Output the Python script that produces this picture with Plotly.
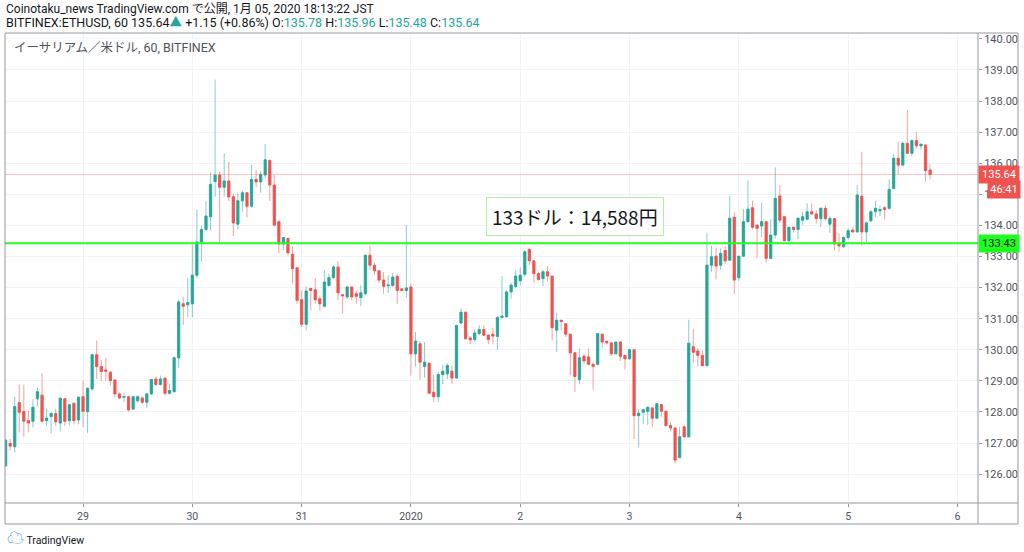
import pandas as pd
import plotly.graph_objects as go

# ETH/USD 1h ローソク足 (BITFINEX)
start_time = "2019-12-28 07:00"

opens = [126.27, 126.99, 126.88, 128.30, 128.01, 127.72, 127.70, 128.42, 128.54, 127.72,
         127.85, 127.95, 127.64, 128.42, 127.72, 128.28, 127.74, 128.49, 128.01, 128.74,
         129.84, 129.46, 129.35, 129.28, 129.03, 128.58, 128.47, 128.49, 128.09, 128.36,
         128.45, 128.31, 128.58, 129.06, 128.88, 129.09, 128.60, 128.65, 129.74, 131.48,
         131.45, 131.48, 132.40, 133.47, 133.87, 134.28, 135.41, 135.62, 135.23, 135.43,
         134.92, 134.04, 134.79, 135.05, 134.62, 135.48, 135.40, 135.62, 136.09, 135.30,
         134.12, 133.40, 133.58, 133.07, 132.64, 131.61, 130.82, 131.97, 131.93, 131.64,
         131.40, 132.07, 132.32, 132.66, 131.77, 131.70, 132.02, 131.80, 131.68, 131.80,
         133.04, 132.72, 132.54, 132.24, 132.06, 132.07, 132.36, 131.96, 131.91, 132.02,
         129.87, 130.19, 129.46, 129.57, 128.63, 128.49, 129.20, 129.22, 129.31, 129.09,
         130.86, 131.21, 130.38, 130.33, 130.52, 130.65, 130.47, 130.50, 130.43, 131.04,
         131.06, 131.86, 132.03, 132.22, 132.43, 133.23, 132.86, 132.45, 132.29, 132.51,
         132.37, 130.63, 130.95, 130.84, 130.50, 129.90, 129.04, 129.79, 129.77, 129.53,
         129.53, 130.50, 130.27, 130.22, 129.87, 130.25, 129.82, 129.71, 130.00, 127.88,
         127.99, 128.02, 128.13, 127.80, 128.24, 128.02, 127.56, 127.48, 126.53, 127.52,
         127.20, 130.10, 129.96, 129.82, 129.49, 132.72, 133.01, 132.72, 133.19, 132.88,
         134.26, 132.32, 133.01, 134.12, 134.57, 134.01, 133.98, 134.12, 132.94, 133.69,
         134.95, 134.28, 133.51, 133.94, 133.87, 134.17, 134.20, 134.44, 134.37, 134.22,
         134.55, 134.04, 134.22, 133.42, 133.31, 133.61, 133.85, 133.79, 134.94, 133.79,
         134.15, 134.44, 134.47, 134.57, 134.55, 135.19, 136.16, 135.94, 136.64, 136.32,
         136.73, 136.56, 136.59, 135.78]

highs = [127.13, 127.13, 128.49, 128.88, 128.88, 128.04, 128.42, 128.79, 129.25, 128.10,
         127.99, 128.10, 128.47, 128.45, 128.27, 128.30, 128.50, 129.01, 128.79, 129.87,
         130.30, 129.67, 129.74, 129.31, 129.03, 128.63, 128.58, 128.52, 128.52, 128.52,
         128.49, 128.60, 129.06, 129.14, 129.17, 129.09, 128.90, 129.78, 131.61, 131.70,
         132.30, 133.37, 134.51, 134.00, 134.79, 135.70, 138.69, 135.73, 136.32, 136.05,
         135.03, 135.05, 135.12, 135.08, 135.95, 135.78, 135.73, 136.62, 136.13, 135.62,
         134.17, 133.63, 133.61, 133.33, 132.64, 131.91, 132.04, 132.00, 132.30, 131.75,
         132.56, 132.45, 132.72, 132.86, 131.78, 132.04, 132.04, 131.89, 132.07, 133.07,
         133.36, 132.80, 132.56, 132.50, 132.40, 132.47, 132.45, 131.96, 134.01, 132.13,
         130.57, 130.28, 130.25, 129.57, 129.20, 129.28, 129.52, 129.57, 129.49, 130.81,
         131.32, 131.21, 130.43, 130.65, 130.79, 130.79, 130.50, 130.71, 131.08, 132.37,
         131.92, 132.15, 132.58, 132.65, 133.21, 133.26, 132.86, 132.51, 132.56, 132.69,
         132.37, 131.19, 130.95, 130.86, 130.52, 129.93, 130.04, 129.87, 130.04, 129.60,
         130.52, 130.52, 130.30, 130.25, 130.25, 130.28, 129.82, 130.04, 130.00, 128.10,
         128.10, 128.17, 128.15, 128.28, 128.26, 128.05, 127.66, 127.52, 127.52, 127.59,
         130.97, 130.68, 130.04, 129.98, 133.77, 133.34, 133.29, 133.26, 133.34, 134.95,
         134.41, 133.01, 134.52, 135.44, 134.80, 134.01, 134.73, 134.12, 134.20, 135.87,
         135.30, 134.30, 133.96, 133.96, 134.26, 134.44, 134.71, 134.71, 134.49, 134.58,
         134.65, 134.30, 134.22, 133.74, 133.65, 133.90, 133.95, 135.30, 136.37, 134.12,
         134.49, 134.79, 134.65, 134.62, 135.48, 136.30, 136.70, 136.70, 137.72, 136.77,
         137.00, 136.64, 136.59, 135.96]

lows = [126.23, 126.75, 126.70, 127.34, 127.20, 127.34, 127.50, 128.17, 127.66, 127.56,
        127.31, 127.56, 127.37, 127.56, 127.56, 127.60, 127.60, 127.50, 127.31, 128.68,
        129.06, 128.99, 129.01, 128.85, 128.47, 128.42, 128.31, 128.02, 128.06, 128.30,
        128.25, 128.12, 128.55, 128.85, 128.85, 128.52, 128.55, 128.63, 129.42, 130.80,
        131.05, 131.05, 132.30, 132.83, 133.83, 133.83, 134.92, 133.44, 134.92, 134.79,
        133.66, 133.87, 134.44, 134.26, 134.58, 135.23, 135.05, 135.52, 134.79, 133.98,
        133.10, 133.20, 133.04, 132.13, 131.48, 130.73, 130.62, 131.27, 131.48, 131.27,
        131.37, 132.02, 132.29, 131.59, 131.18, 131.64, 131.59, 131.48, 131.40, 131.78,
        132.56, 132.40, 132.15, 131.80, 131.83, 132.02, 131.48, 131.89, 131.68, 129.17,
        129.46, 129.03, 129.10, 128.58, 128.31, 128.31, 128.90, 129.06, 128.90, 129.06,
        130.83, 130.35, 130.19, 130.25, 130.47, 130.43, 130.18, 130.18, 130.00, 131.00,
        131.04, 131.65, 132.00, 132.08, 132.35, 132.72, 132.15, 132.22, 132.05, 132.19,
        130.30, 129.92, 130.63, 130.41, 129.18, 128.64, 128.89, 129.53, 129.50, 128.71,
        129.50, 130.07, 130.18, 129.79, 129.85, 129.64, 129.36, 129.68, 127.13, 126.86,
        127.61, 127.59, 127.52, 127.77, 127.85, 127.53, 127.37, 126.34, 126.51, 127.18,
        127.18, 129.57, 129.46, 129.46, 129.46, 132.51, 132.26, 132.58, 132.76, 132.86,
        131.79, 132.22, 132.99, 134.09, 133.87, 132.94, 133.62, 132.80, 132.91, 133.58,
        134.09, 133.48, 133.48, 133.77, 133.55, 134.02, 134.19, 134.33, 134.06, 133.95,
        134.15, 133.76, 133.20, 133.15, 133.29, 133.55, 133.76, 133.76, 133.36, 133.47,
        134.12, 134.26, 134.30, 134.19, 134.51, 135.16, 135.65, 135.91, 136.30, 136.23,
        136.48, 136.43, 135.41, 135.48]

closes = [127.09, 126.90, 128.17, 127.99, 127.70, 127.64, 128.15, 128.65, 127.70, 127.80,
          127.95, 127.68, 128.44, 127.70, 128.23, 127.72, 128.47, 128.02, 128.76, 129.84,
          129.46, 129.30, 129.31, 129.01, 128.58, 128.45, 128.49, 128.06, 128.49, 128.49,
          128.31, 128.58, 129.04, 128.88, 129.06, 128.60, 128.69, 129.74, 131.54, 131.40,
          131.52, 132.40, 133.47, 133.87, 134.30, 135.32, 135.62, 135.23, 135.43, 134.92,
          134.08, 134.79, 135.05, 134.62, 135.48, 135.40, 135.64, 136.11, 135.30, 134.01,
          133.40, 133.61, 133.12, 132.61, 131.59, 130.82, 131.89, 131.91, 131.61, 131.48,
          132.18, 132.32, 132.66, 131.83, 131.74, 132.02, 131.70, 131.72, 131.83, 133.04,
          132.72, 132.54, 132.24, 132.04, 132.08, 132.34, 131.91, 131.91, 131.99, 129.87,
          130.28, 129.60, 129.60, 128.60, 128.49, 129.20, 129.31, 129.49, 129.09, 130.78,
          131.21, 130.35, 130.32, 130.54, 130.65, 130.47, 130.33, 130.44, 131.04, 131.08,
          131.86, 132.08, 132.37, 132.40, 133.15, 132.86, 132.45, 132.26, 132.51, 132.37,
          130.71, 130.95, 130.91, 130.50, 129.90, 129.14, 129.74, 129.64, 129.53, 129.47,
          130.52, 130.25, 130.22, 129.87, 130.25, 129.79, 129.71, 130.00, 127.88, 127.96,
          128.07, 128.15, 127.80, 128.26, 128.02, 127.56, 127.48, 126.45, 127.20, 127.20,
          130.21, 129.92, 129.82, 129.49, 132.72, 132.99, 132.69, 133.10, 132.86, 134.23,
          132.24, 133.01, 134.12, 134.52, 133.94, 133.91, 134.12, 132.94, 133.69, 134.87,
          134.17, 133.51, 133.94, 133.87, 134.23, 134.28, 134.44, 134.37, 134.22, 134.55,
          134.22, 134.22, 133.40, 133.34, 133.61, 133.83, 133.79, 134.98, 133.79, 134.08,
          134.44, 134.55, 134.51, 134.51, 135.16, 136.16, 135.94, 136.64, 136.32, 136.73,
          136.56, 136.61, 135.76, 135.64]

price_ticks = [126, 127, 128, 129, 130, 131, 132, 133, 134, 135, 136, 137, 138, 139, 140]
day_ticks = ["2019-12-29", "2019-12-30", "2019-12-31", "2020-01-01", "2020-01-02",
             "2020-01-03", "2020-01-04", "2020-01-05", "2020-01-06"]
day_labels = ["29", "30", "31", "2020", "2", "3", "4", "5", "6"]

level_price = 133.43
last_price = 135.64
countdown = "46:41"

UP = "#26a69a"
DOWN = "#ef5350"
FRAME = "#9598a1"

times = pd.date_range(start_time, periods=len(opens), freq="h")
df = pd.DataFrame({"time": times, "open": opens, "high": highs, "low": lows, "close": closes})
body_top = df[["open", "close"]].max(axis=1)
body_bot = df[["open", "close"]].min(axis=1)

fig = go.Figure()

# ヒゲ (薄い色)
fig.add_trace(go.Candlestick(
    x=df["time"], open=df["open"], high=df["high"], low=df["low"], close=df["close"],
    increasing=dict(line=dict(color="rgba(38,166,154,0.55)", width=1), fillcolor="rgba(38,166,154,0.55)"),
    decreasing=dict(line=dict(color="rgba(239,83,80,0.55)", width=1), fillcolor="rgba(239,83,80,0.55)"),
    showlegend=False, hoverinfo="skip"
))
# 実体
fig.add_trace(go.Candlestick(
    x=df["time"], open=df["open"], high=body_top, low=body_bot, close=df["close"],
    increasing=dict(line=dict(color=UP, width=0.5), fillcolor=UP),
    decreasing=dict(line=dict(color=DOWN, width=0.5), fillcolor=DOWN),
    showlegend=False
))

shapes = [
    # 水平線 133.43
    dict(type="line", xref="paper", x0=0, x1=1, yref="y", y0=level_price, y1=level_price,
         line=dict(color="#1eff1e", width=2)),
    # 現在値ライン
    dict(type="line", xref="paper", x0=0, x1=1, yref="y", y0=last_price, y1=last_price,
         line=dict(color="rgba(239,83,80,0.35)", width=1)),
    # 枠
    dict(type="rect", xref="paper", yref="paper", x0=0, x1=1.0411, y0=-0.0447, y1=1,
         line=dict(color=FRAME, width=1)),
    dict(type="line", xref="paper", yref="paper", x0=1, x1=1, y0=-0.0447, y1=1,
         line=dict(color=FRAME, width=1)),
    dict(type="line", xref="paper", yref="paper", x0=0, x1=1.0411, y0=0, y1=0,
         line=dict(color=FRAME, width=1)),
]

hdr_font = "Roboto, Noto Sans CJK JP, sans-serif"
line2 = ("BITFINEX:ETHUSD, 60 135.64<span style='color:#26a69a'>▲</span> +1.15 (+0.86%) "
         "O:<span style='color:#26a69a'>135.78</span> H:<span style='color:#26a69a'>135.96</span> "
         "L:<span style='color:#26a69a'>135.48</span> C:<span style='color:#26a69a'>135.64</span>")

annotations = [
    dict(text="Coinotaku_news TradingView.com で公開, 1月 05, 2020 18:13:22 JST",
         xref="paper", yref="paper", x=-0.001, y=1.051, xanchor="left", yanchor="middle",
         showarrow=False, font=dict(family=hdr_font, size=12, color="#131722")),
    dict(text=line2, xref="paper", yref="paper", x=-0.001, y=1.0213, xanchor="left", yanchor="middle",
         showarrow=False, font=dict(family=hdr_font, size=12.5, color="#131722")),
    dict(text="イーサリアム／米ドル, 60, BITFINEX", xref="paper", yref="paper", x=0.007, y=0.970,
         xanchor="left", yanchor="middle", showarrow=False,
         font=dict(family=hdr_font, size=12.5, color="#50535e")),
    dict(text="133ドル：14,588円", x="2020-01-02 12:00", y=134.3, xref="x", yref="y",
         showarrow=False, bgcolor="white", bordercolor="#b5eda5", borderwidth=1, borderpad=5,
         font=dict(family="Noto Sans CJK JP", size=19, color="#131722")),
    # 右側の価格ラベル
    dict(text=f"{last_price:.2f}", xref="paper", yref="y", x=1, y=last_price, xanchor="left",
         yanchor="middle", showarrow=False, bgcolor=DOWN, width=36, borderpad=2,
         font=dict(family=hdr_font, size=11, color="white")),
    dict(text=countdown, xref="paper", yref="y", x=1.0095, y=last_price, yshift=-15, xanchor="left",
         yanchor="middle", showarrow=False, bgcolor=DOWN, width=28, borderpad=2,
         font=dict(family=hdr_font, size=11, color="white")),
    dict(text=f"{level_price:.2f}", xref="paper", yref="y", x=1, y=level_price, xanchor="left",
         yanchor="middle", showarrow=False, bgcolor="#1eff1e", width=36, borderpad=2,
         font=dict(family=hdr_font, size=11, color="#131722")),
    # ロゴ
    dict(text="<span style='color:#2196f3;font-size:17px'>☁</span> TradingView", xref="paper", yref="paper",
         x=0.0, y=-0.0745, xanchor="left", yanchor="middle", showarrow=False,
         font=dict(family=hdr_font, size=10.5, color="#131722")),
]

fig.update_layout(
    width=1024, height=552,
    paper_bgcolor="white", plot_bgcolor="white",
    margin=dict(l=5, r=46, t=33, b=49),
    boxgap=0.3,
    shapes=shapes,
    annotations=annotations,
    xaxis=dict(
        type="date",
        range=["2019-12-28 06:52", "2020-01-06 04:31"],
        rangeslider=dict(visible=False),
        tickvals=day_ticks, ticktext=day_labels,
        ticks="outside", ticklen=3, tickcolor=FRAME,
        showgrid=True, gridcolor="#f0f3fa",
        tickfont=dict(family=hdr_font, size=10.5, color="#50535e"),
        zeroline=False, fixedrange=True,
    ),
    yaxis=dict(
        side="right",
        range=[125.07, 140.19],
        tickvals=price_ticks, ticktext=[f"{p:.2f}" for p in price_ticks],
        ticks="outside", ticklen=3, tickcolor=FRAME,
        showgrid=True, gridcolor="#f0f3fa",
        tickfont=dict(family=hdr_font, size=11, color="#50535e"),
        zeroline=False, fixedrange=True,
    ),
    hovermode=False,
)

config = {'displayModeBar': False}

# ページの余白をなくす
fig.write_html("out.html", config=config, post_script="document.body.style.margin='0';")
